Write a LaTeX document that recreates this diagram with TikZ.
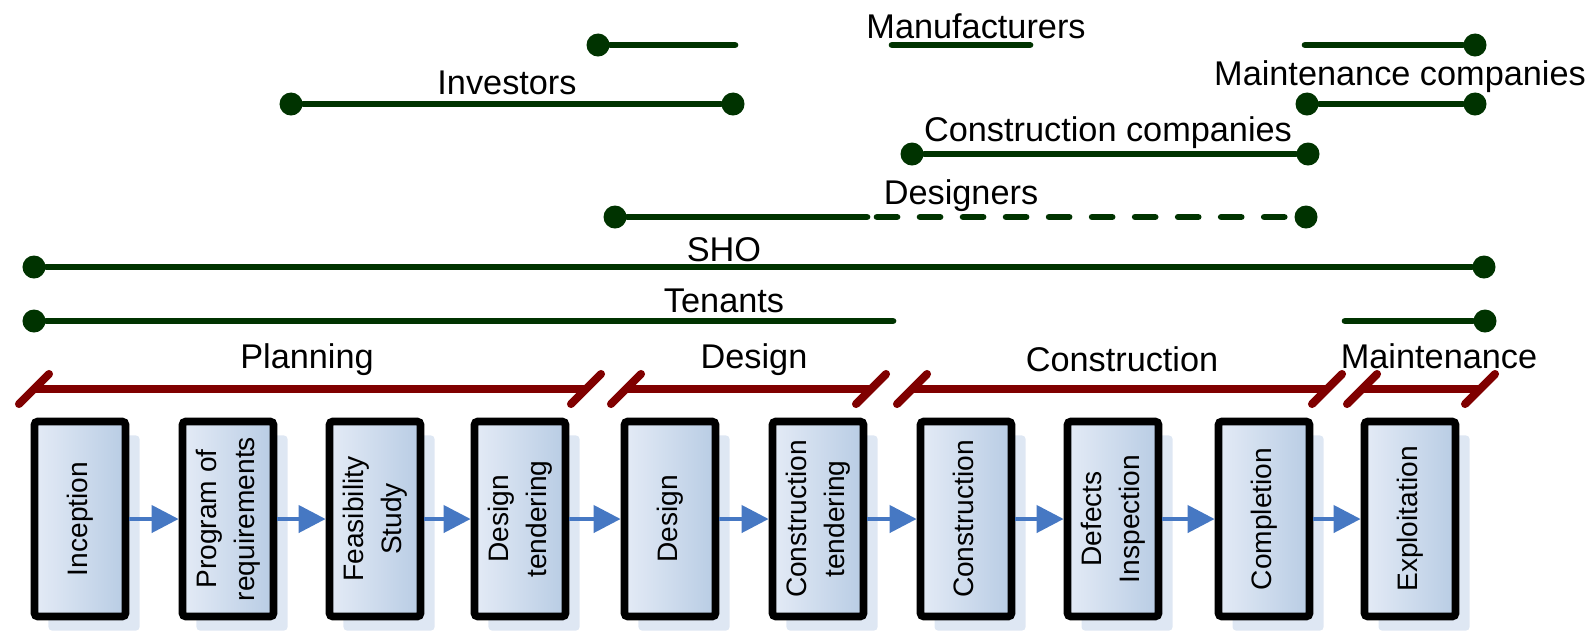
\documentclass[tikz,border=0pt]{standalone}
\usepackage{fontspec}
\setmainfont{Liberation Sans}
\usetikzlibrary{arrows.meta,shadows}

\definecolor{stakegreen}{RGB}{0,51,0}
\definecolor{phasered}{RGB}{128,0,0}
\definecolor{arrowblue}{RGB}{70,120,195}
\definecolor{boxlight}{RGB}{228,235,246}
\definecolor{boxdark}{RGB}{184,204,228}
\definecolor{shadowblue}{RGB}{222,231,243}

\tikzset{
  stake/.style={line width=1.9pt, draw=stakegreen, line cap=round},
  dot/.style={circle, fill=stakegreen, inner sep=0pt, minimum size=0.23cm},
  phase/.style={line width=2pt, draw=phasered, line cap=round},
  tick/.style={line width=2.3pt, draw=phasered, line cap=round},
  box/.style={draw=black, line width=2.2pt, rounded corners=1pt,
    minimum width=0.91cm, minimum height=1.95cm, inner sep=0pt,
    left color=boxlight, right color=boxdark,
    font=\fontsize{8}{10.8}\selectfont,
    drop shadow={shadow xshift=0.14cm, shadow yshift=-0.14cm, fill=shadowblue, opacity=1}},
  flow/.style={-{Triangle[length=0.27cm,width=0.27cm]}, line width=1.2pt, draw=arrowblue},
  lbl/.style={font=\fontsize{9.75}{11}\selectfont, inner sep=0pt}
}
\newcommand{\vtext}[1]{\rotatebox{90}{\begin{tabular}{@{}c@{}}#1\end{tabular}}}

\begin{document}
\begin{tikzpicture}[x=0.01cm, y=-0.01cm]
    \useasboundingbox (0,0) rectangle (1595,633);

    % Manufacturers
    \node[dot] (man1) at (598,45) {};
    \coordinate (man2) at (735,45);
    \draw[stake] (man1) -- (man2);
    \coordinate (man3) at (892,45);
    \coordinate (man4) at (1030,45);
    \draw[stake] (man3) -- (man4);
    \node[lbl] (manlbl) at (976,26) {Manufacturers};
    % Investors
    \node[dot] (inv1) at (291,104) {};
    \node[dot] (inv2) at (733,104) {};
    \draw[stake] (inv1) -- (inv2);
    \node[lbl] (invlbl) at (507,83) {Investors};
    % Maintenance companies
    \coordinate (mc1) at (1305,45);
    \node[dot] (mc2) at (1475,45) {};
    \draw[stake] (mc1) -- (mc2);
    \node[dot] (mc3) at (1307,104) {};
    \node[dot] (mc4) at (1475,104) {};
    \draw[stake] (mc3) -- (mc4);
    \node[lbl] (mclbl) at (1400,77) {Maintenance companies};
    % Construction companies
    \node[dot] (cc1) at (912,154) {};
    \node[dot] (cc2) at (1308,154) {};
    \draw[stake] (cc1) -- (cc2);
    \node[lbl] (cclbl) at (1108,133) {Construction companies};
    % Designers
    \node[dot] (des1) at (615,217) {};
    \coordinate (des2) at (867,217);
    \coordinate (des3) at (877,217);
    \node[dot] (des4) at (1306,217) {};
    \draw[stake] (des1) -- (des2);
    \draw[stake, dash pattern=on 0.2cm off 0.23cm] (des3) -- (des4);
    \node[lbl] (deslbl) at (961,196) {Designers};
    % SHO
    \node[dot] (sho1) at (34,267) {};
    \node[dot] (sho2) at (1484,267) {};
    \draw[stake] (sho1) -- (sho2);
    \node[lbl] (sholbl) at (724,250) {SHO};
    % Tenants
    \node[dot] (ten1) at (34,321) {};
    \coordinate (ten2) at (893,321);
    \draw[stake] (ten1) -- (ten2);
    \coordinate (ten3) at (1345,321);
    \node[dot] (ten4) at (1485,321) {};
    \draw[stake] (ten3) -- (ten4);
    \node[lbl] (tenlbl) at (724,301) {Tenants};

    % Phases
    \coordinate (pl1) at (34,389);  \coordinate (pl2) at (586,389);
    \coordinate (de1) at (626,389); \coordinate (de2) at (871,389);
    \coordinate (co1) at (912,389); \coordinate (co2) at (1327,389);
    \coordinate (ma1) at (1362,389); \coordinate (ma2) at (1480,389);
    \draw[phase] (pl1) -- (pl2);
    \draw[phase] (de1) -- (de2);
    \draw[phase] (co1) -- (co2);
    \draw[phase] (ma1) -- (ma2);
    \foreach \p in {pl1,pl2,de1,de2,co1,co2,ma1,ma2}
        \draw[tick] (\p) +(-15,15) -- +(15,-15);
    \node[lbl] (pllbl) at (307,360) {Planning};
    \node[lbl] (delbl) at (754,360) {Design};
    \node[lbl] (colbl) at (1122,359) {Construction};
    \node[lbl] (malbl) at (1439,356) {Maintenance};

    % Steps
    \node[box] (inc) at (80,519) {\vtext{Inception}};
    \node[box] (req) at (228,519) {\vtext{Program of\\requirements}};
    \node[box] (feas) at (375,519) {\vtext{Feasibility\\Study}};
    \node[box] (dten) at (520,519) {\vtext{Design\\tendering}};
    \node[box] (des) at (670,519) {\vtext{Design}};
    \node[box] (cten) at (818,519) {\vtext{Construction\\tendering}};
    \node[box] (con) at (966,519) {\vtext{Construction}};
    \node[box] (def) at (1113,519) {\vtext{Defects\\Inspection}};
    \node[box] (compl) at (1264,519) {\vtext{Completion}};
    \node[box] (expl) at (1410,519) {\vtext{Exploitation}};

    % Flow
    \draw[flow] (inc) -- (req);
    \draw[flow] (req) -- (feas);
    \draw[flow] (feas) -- (dten);
    \draw[flow] (dten) -- (des);
    \draw[flow] (des) -- (cten);
    \draw[flow] (cten) -- (con);
    \draw[flow] (con) -- (def);
    \draw[flow] (def) -- (compl);
    \draw[flow] (compl) -- (expl);
\end{tikzpicture}
\end{document}
